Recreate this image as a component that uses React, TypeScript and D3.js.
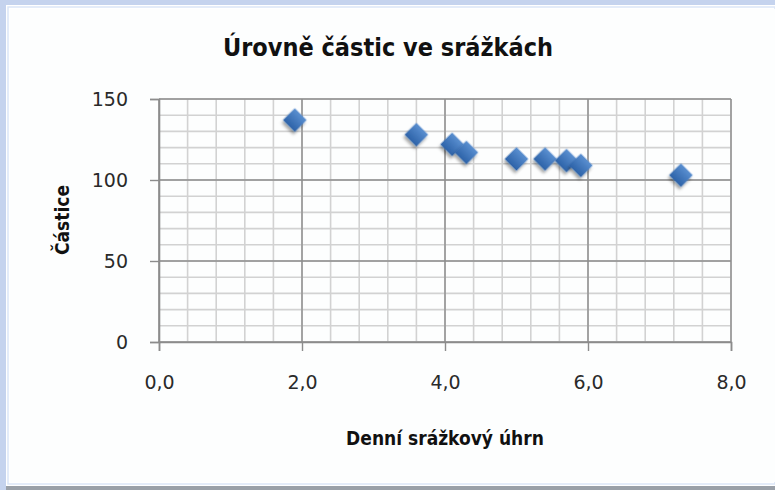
import { useEffect, useRef } from 'react';
import * as d3 from 'd3';

const W = 775;
const H = 490;

const rainfall = [1.9, 3.6, 4.1, 4.3, 5.0, 5.4, 5.7, 5.9, 7.3];
const particles = [137, 128, 122, 117, 113, 113, 112, 109, 103];
const xTicks = [0, 2, 4, 6, 8];
const yTicks = [0, 50, 100, 150];

const title = 'Úrovně částic ve srážkách';
const xTitle = 'Denní srážkový úhrn';
const yTitle = 'Částice';

const margin = { left: 159, right: 44, top: 99, bottom: 148 };

const App = () => {
    const svgRef = useRef<SVGSVGElement>(null);

    useEffect(() => {
        const svg = d3.select(svgRef.current);
        svg.selectAll('*').remove();

        const innerW = W - margin.left - margin.right;
        const innerH = H - margin.top - margin.bottom;

        const defs = svg.append('defs');
        const grad = defs.append('linearGradient')
            .attr('id', 'mk')
            .attr('x1', 0).attr('y1', 0).attr('x2', 0).attr('y2', 1);
        grad.append('stop').attr('offset', '0%').attr('stop-color', '#5a8fd0');
        grad.append('stop').attr('offset', '100%').attr('stop-color', '#2c62a8');
        const f = defs.append('filter').attr('id', 'shadow')
            .attr('x', '-50%').attr('y', '-50%').attr('width', '200%').attr('height', '200%');
        f.append('feDropShadow')
            .attr('dx', 1).attr('dy', 3).attr('stdDeviation', 1.6)
            .attr('flood-color', '#000').attr('flood-opacity', 0.35);

        // window frame
        svg.append('rect').attr('width', W).attr('height', H).attr('fill', '#c5d3ee');
        svg.append('rect').attr('x', 6).attr('y', 5).attr('width', W - 6).attr('height', H - 9).attr('fill', '#ffffff');
        svg.append('rect').attr('x', 8).attr('y', 7).attr('width', W - 8).attr('height', H - 13)
            .attr('fill', 'none').attr('stroke', '#dbe6f7').attr('stroke-width', 1.5);
        svg.append('rect').attr('x', 10).attr('y', 9).attr('width', W - 10).attr('height', H - 17).attr('fill', '#fdfefe');
        svg.append('rect').attr('x', 6).attr('y', H - 4).attr('width', W - 6).attr('height', 4).attr('fill', '#9aa0a8');

        const x = d3.scaleLinear().domain([0, 8]).range([0, innerW]);
        const y = d3.scaleLinear().domain([0, 150]).range([innerH, 0]);

        const g = svg.append('g').attr('transform', `translate(${margin.left},${margin.top})`);

        // minor grid
        const xMinor = d3.range(0, 8.001, 0.4);
        const yMinor = d3.range(0, 150.001, 10);
        g.append('g').selectAll('line')
            .data(xMinor)
            .join('line')
            .attr('x1', d => x(d)).attr('x2', d => x(d))
            .attr('y1', 0).attr('y2', innerH)
            .attr('stroke', '#d2d2d2').attr('stroke-width', 1.6);
        g.append('g').selectAll('line')
            .data(yMinor)
            .join('line')
            .attr('x1', 0).attr('x2', innerW)
            .attr('y1', d => y(d)).attr('y2', d => y(d))
            .attr('stroke', '#d2d2d2').attr('stroke-width', 1.6);

        // major grid
        g.append('g').selectAll('line')
            .data(xTicks)
            .join('line')
            .attr('x1', d => x(d)).attr('x2', d => x(d))
            .attr('y1', 0).attr('y2', innerH)
            .attr('stroke', '#8c8c8c').attr('stroke-width', 1.4);
        g.append('g').selectAll('line')
            .data(yTicks)
            .join('line')
            .attr('x1', 0).attr('x2', innerW)
            .attr('y1', d => y(d)).attr('y2', d => y(d))
            .attr('stroke', '#8c8c8c').attr('stroke-width', 1.4);

        // axes
        const xAxis = g.append('g')
            .attr('transform', `translate(0,${innerH})`)
            .call(d3.axisBottom(x).tickValues(xTicks).tickSize(9).tickPadding(25)
                .tickFormat(d => d3.format('.1f')(+d).replace('.', ',')));
        const yAxis = g.append('g')
            .call(d3.axisLeft(y).tickValues(yTicks).tickSize(9).tickPadding(22));
        [xAxis, yAxis].forEach(a => {
            a.select('.domain').attr('stroke', '#8c8c8c').attr('stroke-width', 1.6);
            a.selectAll('.tick line').attr('stroke', '#8c8c8c').attr('stroke-width', 1.4);
            a.selectAll('.tick text')
                .attr('fill', '#2a2a2a')
                .style('font-family', '"DejaVu Sans", Verdana, sans-serif')
                .style('font-size', '19px');
        });

        // markers
        const diamond = d3.symbol().type(d3.symbolSquare).size(280);
        g.append('g').selectAll('path')
            .data(rainfall.map((r, i) => ({ r, p: particles[i] })))
            .join('path')
            .attr('d', diamond)
            .attr('transform', d => `translate(${x(d.r)},${y(d.p)}) rotate(45)`)
            .attr('fill', 'url(#mk)')
            .attr('filter', 'url(#shadow)');

        // titles
        const bold = '"DejaVu Sans Condensed", "DejaVu Sans", sans-serif';
        svg.append('text')
            .attr('x', 388).attr('y', 56)
            .attr('text-anchor', 'middle')
            .style('font-family', bold)
            .style('font-weight', 'bold')
            .style('font-size', '25px')
            .attr('fill', '#111')
            .text(title);
        svg.append('text')
            .attr('x', 445).attr('y', 445)
            .attr('text-anchor', 'middle')
            .style('font-family', bold)
            .style('font-weight', 'bold')
            .style('font-size', '19px')
            .attr('fill', '#111')
            .text(xTitle);
        svg.append('text')
            .attr('transform', 'translate(69,220) rotate(-90)')
            .attr('text-anchor', 'middle')
            .style('font-family', bold)
            .style('font-weight', 'bold')
            .style('font-size', '19px')
            .attr('fill', '#111')
            .text(yTitle);
    }, []);

    return (
        <svg
            ref={svgRef}
            width={W}
            height={H}
            viewBox={`0 0 ${W} ${H}`}
            style={{ position: 'absolute', left: 0, top: 0, display: 'block' }}
        />
    );
};

export default App;
